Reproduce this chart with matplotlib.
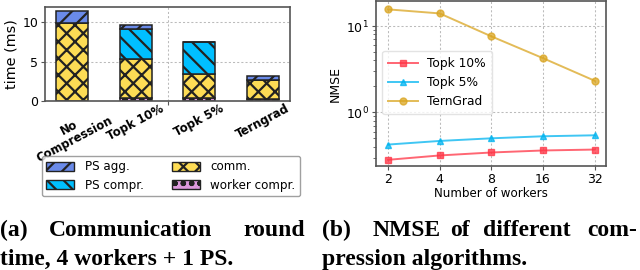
import matplotlib
matplotlib.use("Agg")
import matplotlib.pyplot as plt
import matplotlib.ticker as mticker
from matplotlib.patches import Patch

# ---- data: left chart ----
categories = ['No\nCompression', 'Topk 10%', 'Topk 5%', 'Terngrad']
worker_compr = [0.0, 0.43, 0.43, 0.2]
comm = [9.97, 4.85, 3.0, 2.5]
ps_compr = [0.0, 3.92, 4.02, 0.0]
ps_agg = [1.42, 0.45, 0.05, 0.52]

# ---- data: right chart ----
workers = [2, 4, 8, 16, 32]
topk10 = [0.283, 0.318, 0.344, 0.363, 0.372]
topk5 = [0.425, 0.468, 0.502, 0.530, 0.544]
terngrad = [15.6, 14.0, 7.6, 4.25, 2.33]

DPI = 100
plt.rcParams['hatch.linewidth'] = 1.6
plt.rcParams['font.family'] = 'DejaVu Sans'

W, H = 640, 270
fig = plt.figure(figsize=(W / DPI, H / DPI), dpi=DPI)

def rect(l, t, r, b):
    return [l / W, 1 - b / H, (r - l) / W, (b - t) / H]

spine_col = '#555555'
grid_kw = dict(color='#bbbbbb', linestyle=(0, (2, 2)), linewidth=0.75)

# ---------- left chart ----------
ax1 = fig.add_axes(rect(45, 7, 290, 101))
x = list(range(len(categories)))
c_agg, c_pscompr, c_comm, c_worker = '#6a8ae8', '#00bfff', '#fddc55', '#dd99dd'
bw = 0.5
b0 = [0] * 4
b1 = [worker_compr[i] for i in x]
b2 = [b1[i] + comm[i] for i in x]
b3 = [b2[i] + ps_compr[i] for i in x]
kw = dict(width=bw, edgecolor='#222222', linewidth=1.1)
h_agg, h_pscompr, h_comm, h_worker = '//', '\\\\', 'xx', 'oo'
ax1.bar(x, worker_compr, bottom=b0, color=c_worker, hatch=h_worker, **kw)
ax1.bar(x, comm, bottom=b1, color=c_comm, hatch=h_comm, **kw)
ax1.bar(x, ps_compr, bottom=b2, color=c_pscompr, hatch=h_pscompr, **kw)
ax1.bar(x, ps_agg, bottom=b3, color=c_agg, hatch=h_agg, **kw)
ax1.set_xticks([1.5])
ax1.set_xticklabels([''])
ax1.set_xticks(x, minor=True)
ax1.set_xticklabels(categories, minor=True, rotation=28, ha='center', fontsize=8.4,
                    fontweight='bold', linespacing=0.95)
ax1.tick_params(axis='x', which='minor', length=0, pad=1)
ax1.tick_params(axis='x', which='major', length=3, color=spine_col)
ax1.set_yticks([0, 5, 10])
ax1.tick_params(axis='y', labelsize=9, length=3, color=spine_col, pad=2)
ax1.set_ylabel('time (ms)', fontsize=10.4, labelpad=3)
ax1.grid(True, axis='both', **grid_kw)
ax1.set_axisbelow(True)
for s in ax1.spines.values():
    s.set_color(spine_col)
    s.set_linewidth(1.2)

handles = [
    Patch(facecolor=c_agg, edgecolor='#222222', hatch=h_agg, label='PS agg.'),
    Patch(facecolor=c_pscompr, edgecolor='#222222', hatch=h_pscompr, label='PS compr.'),
    Patch(facecolor=c_comm, edgecolor='#222222', hatch=h_comm, label='comm.'),
    Patch(facecolor=c_worker, edgecolor='#222222', hatch=h_worker, label='worker compr.'),
]
fig.legend(handles=handles, ncol=2, fontsize=8.6, loc='center',
           bbox_to_anchor=(171 / W, 1 - 176 / H), frameon=True, edgecolor='#888888',
           fancybox=True, handlelength=2.3, handleheight=0.75, columnspacing=2.4,
           labelspacing=0.45, borderpad=0.4, handletextpad=0.9)

# ---------- right chart ----------
ax2 = fig.add_axes(rect(376, 1, 606, 166))
lkw = dict(markersize=5, alpha=0.75, linewidth=1.4)
ax2.plot(workers, topk10, color='#ff3344', marker='s', label='Topk 10%', **lkw)
ax2.plot(workers, topk5, color='#00b4f0', marker='^', label='Topk 5%', **lkw)
ax2.plot(workers, terngrad, color='#daa520', marker='o', label='TernGrad', **lkw)
ax2.set_xscale('log', base=2)
ax2.set_yscale('log')
ax2.set_xticks(workers)
ax2.xaxis.set_major_formatter(mticker.FuncFormatter(lambda v, p: f'{int(round(v))}'))
ax2.xaxis.set_minor_locator(mticker.NullLocator())
ax2.set_xlim(1.70, 37.3)
ax2.set_ylim(0.24, 19.5)
ax2.tick_params(axis='both', labelsize=9, color=spine_col, length=3, pad=2)
ax2.tick_params(axis='y', which='minor', length=2, color=spine_col)
ax2.set_xlabel('Number of workers', fontsize=8.6, labelpad=1)
ax2.set_ylabel('NMSE', fontsize=9, labelpad=3)
ax2.grid(True, which='major', **grid_kw)
for s in ax2.spines.values():
    s.set_color(spine_col)
    s.set_linewidth(1.2)
ax2.legend(fontsize=8.8, loc='upper left', bbox_to_anchor=(0.0, 0.735), edgecolor='#dddddd',
           handlelength=2.4, labelspacing=0.5, borderpad=0.5)

# ---------- captions ----------
cap = dict(family='Liberation Serif', fontweight='bold', fontsize=17, va='baseline')
def t(px, py, s, ha='left'):
    fig.text(px / W, 1 - py / H, s, ha=ha, **cap)

t(0, 236.5, '(a)')
t(49, 236.5, 'Communication')
t(305, 236.5, 'round', ha='right')
t(0, 265, 'time, 4 workers + 1 PS.')

t(322, 236.5, '(b)')
t(373, 236.5, 'NMSE')
t(450, 236.5, 'of')
t(483, 236.5, 'different')
t(637, 236.5, 'com-', ha='right')
t(322, 265, 'pression algorithms.')

fig.savefig('out.png', dpi=DPI)
